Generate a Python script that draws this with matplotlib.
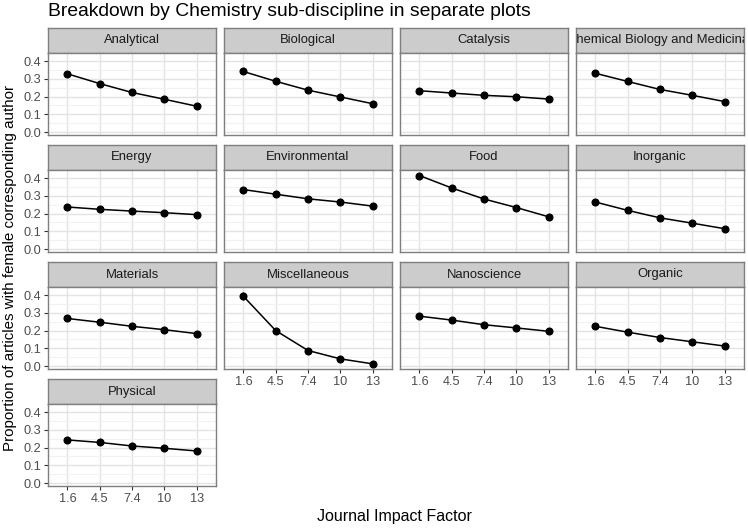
import matplotlib
matplotlib.use("Agg")
import matplotlib.pyplot as plt
import numpy as np

plt.rcParams['font.family'] = ['Liberation Sans', 'DejaVu Sans']

# journal impact factor bins (discrete axis)
jif_labels = ["1.6", "4.5", "7.4", "10", "13"]

disciplines = ["Analytical", "Biological", "Catalysis", "Chemical Biology and Medicinal",
               "Energy", "Environmental", "Food", "Inorganic",
               "Materials", "Miscellaneous", "Nanoscience", "Organic",
               "Physical"]

analytical = [0.328, 0.273, 0.223, 0.185, 0.146]
biological = [0.341, 0.286, 0.236, 0.198, 0.160]
catalysis = [0.233, 0.220, 0.207, 0.199, 0.186]
chembio = [0.331, 0.285, 0.240, 0.207, 0.172]
energy = [0.237, 0.224, 0.214, 0.205, 0.194]
environmental = [0.335, 0.309, 0.283, 0.265, 0.242]
food = [0.414, 0.344, 0.282, 0.234, 0.182]
inorganic = [0.265, 0.218, 0.176, 0.146, 0.115]
materials = [0.268, 0.247, 0.224, 0.205, 0.183]
misc = [0.393, 0.200, 0.088, 0.041, 0.013]
nano = [0.281, 0.259, 0.233, 0.215, 0.196]
organic = [0.224, 0.191, 0.161, 0.137, 0.113]
physical = [0.243, 0.229, 0.209, 0.196, 0.181]

# standard errors (mostly hidden behind the points)
err_small = [0.005, 0.004, 0.004, 0.004, 0.005]
err_misc = [0.022, 0.012, 0.009, 0.007, 0.005]

values = [analytical, biological, catalysis, chembio,
          energy, environmental, food, inorganic,
          materials, misc, nano, organic, physical]
errors = [err_small] * 9 + [err_misc] + [err_small] * 3

W, H = 748, 530
fig = plt.figure(figsize=(W / 100, H / 100), dpi=100)

def px(x, y, w, h):
    # pixel box (top-left origin) -> figure fraction
    return [x / W, 1 - (y + h) / H, w / W, h / H]

col_left = [48, 224, 400, 576]
row_top = [28, 145, 262, 379]
panel_w = 168
strip_h = 25
panel_h = 82
ncol = 4
n = len(disciplines)

xpos = np.arange(len(jif_labels))
border = "#7F7F7F"

for k, name in enumerate(disciplines):
    r, c = divmod(k, ncol)
    x0 = col_left[c]
    y0 = row_top[r]

    # strip
    sax = fig.add_axes(px(x0, y0, panel_w, strip_h))
    sax.set_facecolor("#CCCCCC")
    sax.set_xticks([])
    sax.set_yticks([])
    for s in sax.spines.values():
        s.set_color(border)
        s.set_linewidth(1.0)
    sax.text(0.5, 0.5, name, ha="center", va="center", fontsize=9.4,
             color="#1A1A1A", transform=sax.transAxes, clip_on=True)

    # panel
    ax = fig.add_axes(px(x0, y0 + strip_h, panel_w, panel_h))
    ax.set_facecolor("white")
    ax.set_xlim(-0.6, 4.6)
    ax.set_ylim(-0.016, 0.445)
    ax.set_xticks(xpos)
    ax.set_yticks([0.0, 0.1, 0.2, 0.3, 0.4])
    ax.set_yticks([0.05, 0.15, 0.25, 0.35], minor=True)
    ax.grid(True, which="major", color="#E3E3E3", lw=1.0)
    ax.grid(True, which="minor", axis="y", color="#F2F2F2", lw=0.8)
    ax.set_axisbelow(True)
    for s in ax.spines.values():
        s.set_color(border)
        s.set_linewidth(1.0)

    ax.errorbar(xpos, values[k], yerr=errors[k], color="black", lw=1.1,
                marker="o", ms=4.8, elinewidth=1.0, capsize=0, zorder=3)

    bottom_of_col = (k + ncol >= n)
    ax.tick_params(axis="both", which="major", length=3, width=0.8,
                   color="#333333", labelsize=9.2, labelcolor="#4D4D4D", pad=2)
    ax.tick_params(axis="y", which="minor", length=0)
    if c == 0:
        ax.set_yticklabels(["0.0", "0.1", "0.2", "0.3", "0.4"])
    else:
        ax.tick_params(axis="y", which="major", left=False, labelleft=False)
    if bottom_of_col:
        ax.set_xticklabels(jif_labels)
    else:
        ax.tick_params(axis="x", which="major", bottom=False, labelbottom=False)

fig.text(48 / W, 1 - 12 / H, "Breakdown by Chemistry sub-discipline in separate plots",
         ha="left", va="center", fontsize=13.9, color="black")
fig.text(10 / W, 1 - 268 / H, "Proportion of articles with female corresponding author",
         ha="center", va="center", rotation=90, fontsize=10.9, color="black")
fig.text(394 / W, 1 - 517 / H, "Journal Impact Factor",
         ha="center", va="center", fontsize=11.5, color="black")

fig.savefig("out.png", dpi=100)
